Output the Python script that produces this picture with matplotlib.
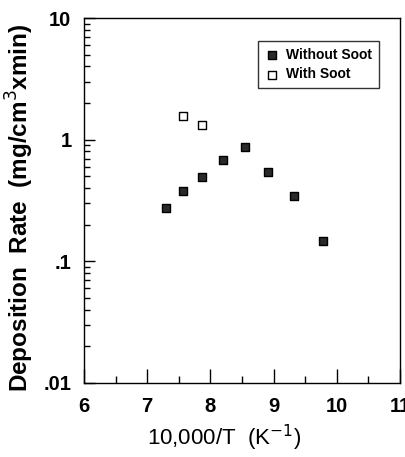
import matplotlib
matplotlib.use("Agg")
import matplotlib.pyplot as plt
from matplotlib.ticker import FixedLocator, FixedFormatter, LogLocator, NullFormatter, MultipleLocator

plt.rcParams['font.family'] = ['Liberation Sans', 'DejaVu Sans']

# Data
x_without = [7.30, 7.57, 7.87, 8.20, 8.54, 8.91, 9.33, 9.78]
y_without = [0.276, 0.379, 0.497, 0.678, 0.871, 0.543, 0.347, 0.147]
x_with = [7.57, 7.87]
y_with = [1.57, 1.33]
ytick_vals = [0.01, 0.1, 1, 10]
ytick_labels = ['.01', '.1', '1', '10']
xtick_vals = [6, 7, 8, 9, 10, 11]

fig = plt.figure(figsize=(4.06, 4.57), dpi=100)
ax = fig.add_axes([84/406, 1-383/457, (400-84)/406, (383-18)/457])
ax.set_yscale('log')
ax.set_xlim(6, 11)
ax.set_ylim(0.01, 10)

ax.scatter(x_without, y_without, marker='s', s=28, facecolor='#2a2a2a', edgecolor='black', linewidths=1.0, label='Without Soot', zorder=3)
ax.scatter(x_with, y_with, marker='s', s=28, facecolor='white', edgecolor='black', linewidths=1.0, label='With Soot', zorder=3)

ax.yaxis.set_major_locator(FixedLocator(ytick_vals))
ax.yaxis.set_major_formatter(FixedFormatter(ytick_labels))
ax.yaxis.set_minor_locator(LogLocator(base=10, subs=range(2, 10)))
ax.yaxis.set_minor_formatter(NullFormatter())
ax.xaxis.set_major_locator(FixedLocator(xtick_vals))
ax.xaxis.set_minor_locator(MultipleLocator(0.5))

ax.tick_params(axis='both', which='both', direction='in', top=False, right=False, width=1.0)
ax.tick_params(axis='x', which='major', length=10, labelsize=14.5, pad=10)
ax.tick_params(axis='x', which='minor', length=5)
ax.tick_params(axis='y', which='major', length=8, labelsize=14.5, pad=9)
ax.tick_params(axis='y', which='minor', length=4)
for lbl in ax.get_xticklabels() + ax.get_yticklabels():
    lbl.set_fontweight('bold')
for s in ax.spines.values():
    s.set_linewidth(1.0)

ax.set_xlabel('10,000/T  (K$^{-1}$)', fontsize=16)
ax.xaxis.set_label_coords((224-84)/316, (383-438)/365)
ax.xaxis.label.set_va('center')
ax.set_ylabel('Deposition  Rate  (mg/cm$^{3}$xmin)', fontsize=17.5, fontweight='bold')
ax.yaxis.set_label_coords((20-84)/316, (383-208)/365)
ax.yaxis.label.set_va('center')

leg = ax.legend(loc='upper right', frameon=True, fancybox=False, edgecolor='black',
                prop={'weight': 'bold', 'size': 10}, borderaxespad=0,
                handletextpad=0.5, borderpad=0.5, labelspacing=0.4, handlelength=1.0,
                bbox_to_anchor=(379/406, 1-41/457), bbox_transform=fig.transFigure)
leg.get_frame().set_linewidth(1.0)

fig.savefig('out.png', dpi=100)
